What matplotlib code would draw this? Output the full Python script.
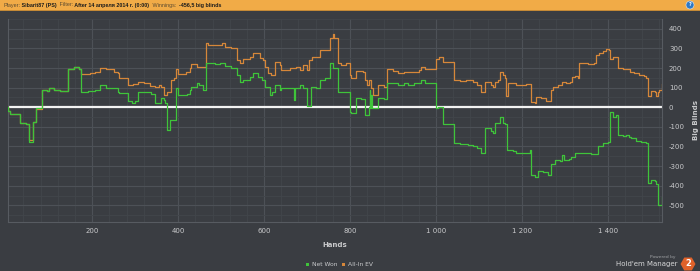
import matplotlib
matplotlib.use("Agg")
import matplotlib.pyplot as plt
from matplotlib.ticker import MultipleLocator, FuncFormatter
from matplotlib.patches import Rectangle, RegularPolygon, Ellipse

# Net Won (steps), hand -> big blinds
nw_hands = [4, 5, 9, 32, 45, 53, 62, 70, 82, 95, 100, 110, 125, 144, 158, 169, 174, 190, 206,
            218, 233, 260, 263, 284, 292, 300, 307, 325, 337, 346, 361, 366, 369, 373, 381, 396,
            400, 420, 427, 431, 443, 448, 458, 464, 485, 498, 509, 524, 536, 544, 552, 567, 574,
            586, 594, 602, 613, 618, 625, 637, 640, 670, 672, 684, 690, 701, 708, 720, 730, 741,
            753, 760, 772, 790, 799, 803, 815, 825, 834, 843, 846, 847, 849, 851, 865, 878, 885,
            900, 912, 925, 935, 950, 966, 975, 1001, 1005, 1016, 1042, 1055, 1074, 1085, 1095,
            1105, 1113, 1128, 1133, 1137, 1145, 1150, 1155, 1160, 1165, 1180, 1187, 1218, 1222,
            1230, 1237, 1250, 1260, 1268, 1276, 1288, 1294, 1299, 1310, 1315, 1323, 1340, 1360,
            1376, 1389, 1400, 1404, 1406, 1412, 1420, 1424, 1435, 1443, 1449, 1454, 1466, 1478,
            1488, 1493, 1500, 1509, 1513, 1516, 1524, 1525]
nw_vals = [0, -17, -35, -78, -85, -175, -73, -5, 88, 85, 97, 90, 82, 194, 204, 194, 80, 82, 90,
           114, 100, 80, 71, 34, 24, 34, 80, 77, 70, 24, 46, 36, 20, -116, -65, 97,
           63, 70, 88, 105, 122, 114, 88, 228, 219, 225, 211, 199, 165, 131, 140, 153, 173,
           153, 139, 105, 63, 80, 114, 88, 97, 37, 97, 114, 97, 6, 105, 97, 139, 150,
           224, 199, 80, 80, -22, -31, 46, 40, -39, 0, 88, -5, 60, -5, 46, 40, 126,
           122, 114, 122, 114, 122, 139, 126, -5, 3, -85, -181, -186, -190, -196, -210,
           -235, -107, -121, -133, -78, -80, -51, -80, -85, -218, -225, -231, -218, -345,
           -354, -323, -330, -345, -289, -269, -272, -243, -269, -265, -255, -235, -235, -240,
           -197, -181, -175, -163, -22, -48, -39, -141, -145, -141, -150, -158, -170, -175,
           -180, -388, -371, -375, -393, -498, -498, -456]

# All-In EV (steps)
ev_hands = [4, 5, 9, 32, 45, 53, 62, 70, 82, 95, 100, 110, 125, 144, 158, 169, 174, 195, 206,
            218, 233, 250, 260, 263, 284, 295, 307, 320, 335, 346, 355, 361, 366, 373, 383, 390,
            396, 400, 412, 418, 427, 431, 443, 464, 470, 490, 502, 509, 524, 536, 538, 544, 550,
            567, 574, 580, 590, 598, 602, 609, 617, 625, 637, 640, 660, 675, 684, 690, 700, 704,
            712, 720, 730, 741, 753, 760, 763, 772, 780, 790, 799, 803, 815, 830, 834, 840, 845,
            848, 854, 865, 878, 885, 900, 912, 925, 950, 960, 966, 975, 1001, 1008, 1016, 1042,
            1055, 1070, 1085, 1095, 1105, 1113, 1128, 1133, 1137, 1145, 1150, 1155, 1160, 1163,
            1167, 1187, 1210, 1222, 1230, 1233, 1245, 1255, 1268, 1272, 1283, 1294, 1302, 1312,
            1316, 1323, 1330, 1334, 1345, 1353, 1368, 1372, 1380, 1388, 1396, 1402, 1406, 1412,
            1424, 1435, 1445, 1452, 1462, 1472, 1484, 1488, 1493, 1500, 1509, 1512, 1516, 1520,
            1525]
ev_vals = [0, -17, -35, -78, -85, -165, -73, -10, 88, 85, 97, 90, 82, 194, 204, 194, 170, 175, 182,
           202, 194, 182, 175, 148, 114, 120, 131, 125, 109, 102, 115, 102, 63, 78, 139, 148,
           194, 170, 170, 180, 199, 221, 204, 330, 318, 318, 330, 309, 301, 280, 241, 224, 245,
           258, 279, 275, 250, 241, 207, 173, 165, 233, 216, 190, 199, 207, 190, 216, 190, 241,
           258, 255, 292, 290, 352, 374, 352, 224, 216, 224, 165, 148, 187, 182, 139, 114, 139,
           97, 63, 114, 105, 194, 187, 173, 182, 182, 190, 207, 194, 245, 258, 233, 139,
           135, 139, 130, 114, 80, 131, 114, 105, 131, 139, 182, 165, 148, 58,
           122, 115, 118, 29, 20, 51, 45, 34, 88, 105, 114, 131, 122, 131,
           153, 160, 150, 228, 224, 220, 228, 267, 276, 285, 296, 290, 245, 255,
           199, 194, 194, 182, 175, 165, 160, 150, 58, 85, 80, 58, 80, 90,
           119]

y_ticks = [-500, -400, -300, -200, -100, 0, 100, 200, 300, 400]
x_ticks = [200, 400, 600, 800, 1000, 1200, 1400]

bg = "#3a3d42"
green = "#3fc43a"
orange = "#d6873a"
txt = "#c9cacc"

fig = plt.figure(figsize=(7, 2.71), dpi=100, facecolor=bg)
W, H = 700, 271

# header bar
fig.patches.append(Rectangle((0, 1 - 10 / H), 1, 10 / H, transform=fig.transFigure,
                             facecolor="#f1ab47", edgecolor="none"))
fig.patches.append(Rectangle((0, 1 - 11 / H), 1, 1 / H, transform=fig.transFigure,
                             facecolor="#c58a36", edgecolor="none"))
parts = [("Player:", "normal", "#5a4a30"), (" Sibarit87 (PS) ", "bold", "#1c1c1c"),
         (" Filter:", "normal", "#5a4a30"), (" After 14 апреля 2014 г. (0:00) ", "bold", "#1c1c1c"),
         (" Winnings:", "normal", "#5a4a30"), ("  -456,5 big blinds", "bold", "#1c1c1c")]
fig.canvas.draw()
x0 = 3 / W
for s, w, c in parts:
    t = fig.text(x0, 1 - 5 / H, s, fontsize=3.9, fontweight=w, color=c,
                 family="Liberation Sans", va="center", ha="left")
    bb = t.get_window_extent(renderer=fig.canvas.get_renderer())
    x0 += bb.width / W
fig.patches.append(Ellipse((690 / W, 1 - 5 / H), 8 / W, 8 / H, transform=fig.transFigure,
                           facecolor="#2f78c4", edgecolor="#dfe8f2", linewidth=0.4))
fig.text(690 / W, 1 - 5 / H, "?", fontsize=3.5, color="white", fontweight="bold",
         ha="center", va="center")

ax = fig.add_axes([8 / W, 1 - 222 / H, 654 / W, 203 / H])
ax.set_facecolor(bg)
ax.set_xlim(4, 1526)
ax.set_ylim(-585, 450)

ax.xaxis.set_major_locator(MultipleLocator(200))
ax.xaxis.set_minor_locator(MultipleLocator(40))
ax.yaxis.set_major_locator(MultipleLocator(100))
ax.yaxis.set_minor_locator(MultipleLocator(50))
ax.grid(which="major", color="#4d5157", linewidth=0.8)
ax.grid(which="minor", color="#42464b", linewidth=0.6)
ax.set_axisbelow(True)

ax.axhline(0, color="#f2f2f2", linewidth=1.6, zorder=2)
ax.plot(ev_hands, ev_vals, drawstyle="steps-post", color=orange, linewidth=0.9, zorder=3)
ax.plot(nw_hands, nw_vals, drawstyle="steps-post", color=green, linewidth=0.9, zorder=4)

ax.spines["top"].set_visible(False)
for side in ["left", "bottom", "right"]:
    ax.spines[side].set_color("#575b61")
    ax.spines[side].set_linewidth(0.8)

ax.yaxis.tick_right()
ax.yaxis.set_label_position("right")
ax.set_yticks(y_ticks)
ax.set_xticks(x_ticks)
ax.xaxis.set_major_formatter(FuncFormatter(lambda v, p: f"{int(v):,}".replace(",", " ")))
ax.yaxis.set_major_formatter(FuncFormatter(lambda v, p: f"{int(v)}"))
ax.tick_params(axis="both", which="both", length=0, labelsize=5, labelcolor=txt)
ax.tick_params(axis="y", pad=5)
ax.tick_params(axis="x", pad=4)
ax.set_xlabel("Hands", fontsize=5, fontweight="bold", color=txt, labelpad=6)
ax.set_ylabel("Big Blinds", fontsize=5, fontweight="bold", color=txt, labelpad=6)

# legend
ly = 1 - 264 / H
fig.patches.append(Rectangle((306 / W, ly - 1.5 / H), 3 / W, 3 / H,
                             transform=fig.transFigure, facecolor=green, edgecolor="none"))
fig.text(312 / W, ly, "Net Won", fontsize=4.3, color=txt, va="center", ha="left")
fig.patches.append(Rectangle((342 / W, ly - 1.5 / H), 3 / W, 3 / H,
                             transform=fig.transFigure, facecolor=orange, edgecolor="none"))
fig.text(348 / W, ly, "All-In EV", fontsize=4.3, color=txt, va="center", ha="left")

# branding
fig.text(676 / W, 1 - 257 / H, "Powered by", fontsize=3.2, color="#a0a2a5",
         ha="right", va="center")
fig.text(678 / W, 1 - 264 / H, "Hold'em Manager", fontsize=5, color="#d6d7d8",
         ha="right", va="center")
fig.patches.append(RegularPolygon((6.88, (H - 264) / 100), numVertices=6, radius=0.075,
                                  orientation=0.5236, transform=fig.dpi_scale_trans,
                                  facecolor="#e0622a", edgecolor="none"))
fig.text(688 / W, 1 - 264 / H, "2", fontsize=6, color="white", fontweight="bold",
         ha="center", va="center")

fig.savefig("out.png", dpi=100, facecolor=bg)
